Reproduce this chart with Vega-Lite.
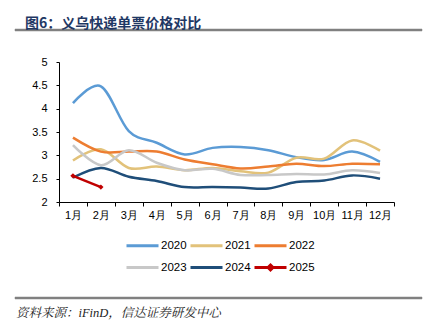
{
  "$schema": "https://vega.github.io/schema/vega-lite/v6.json",
  "padding": {"left": 14, "top": 17, "right": 4, "bottom": 4},
  "background": "white",
  "config": {
    "view": {"stroke": null},
    "font": "Liberation Sans",
    "axis": {"labelFont": "Liberation Sans", "labelFontSize": 11, "labelColor": "#000", "domainColor": "#000", "tickColor": "#000", "titleFontSize": 11}
  },
  "datasets": {
    "prices": [
      {"m": "1月", "year": "2020", "v": 4.12}, {"m": "2月", "year": "2020", "v": 4.48}, {"m": "3月", "year": "2020", "v": 3.52}, {"m": "4月", "year": "2020", "v": 3.27}, {"m": "5月", "year": "2020", "v": 3.02}, {"m": "6月", "year": "2020", "v": 3.16}, {"m": "7月", "year": "2020", "v": 3.18}, {"m": "8月", "year": "2020", "v": 3.11}, {"m": "9月", "year": "2020", "v": 2.96}, {"m": "10月", "year": "2020", "v": 2.9}, {"m": "11月", "year": "2020", "v": 3.08}, {"m": "12月", "year": "2020", "v": 2.86},
      {"m": "1月", "year": "2021", "v": 2.89}, {"m": "2月", "year": "2021", "v": 3.13}, {"m": "3月", "year": "2021", "v": 2.73}, {"m": "4月", "year": "2021", "v": 2.76}, {"m": "5月", "year": "2021", "v": 2.68}, {"m": "6月", "year": "2021", "v": 2.73}, {"m": "7月", "year": "2021", "v": 2.66}, {"m": "8月", "year": "2021", "v": 2.63}, {"m": "9月", "year": "2021", "v": 2.95}, {"m": "10月", "year": "2021", "v": 2.93}, {"m": "11月", "year": "2021", "v": 3.32}, {"m": "12月", "year": "2021", "v": 3.1},
      {"m": "1月", "year": "2022", "v": 3.38}, {"m": "2月", "year": "2022", "v": 3.08}, {"m": "3月", "year": "2022", "v": 3.08}, {"m": "4月", "year": "2022", "v": 3.08}, {"m": "5月", "year": "2022", "v": 2.91}, {"m": "6月", "year": "2022", "v": 2.81}, {"m": "7月", "year": "2022", "v": 2.72}, {"m": "8月", "year": "2022", "v": 2.76}, {"m": "9月", "year": "2022", "v": 2.82}, {"m": "10月", "year": "2022", "v": 2.77}, {"m": "11月", "year": "2022", "v": 2.82}, {"m": "12月", "year": "2022", "v": 2.81},
      {"m": "1月", "year": "2023", "v": 3.22}, {"m": "2月", "year": "2023", "v": 2.79}, {"m": "3月", "year": "2023", "v": 3.11}, {"m": "4月", "year": "2023", "v": 2.84}, {"m": "5月", "year": "2023", "v": 2.68}, {"m": "6月", "year": "2023", "v": 2.71}, {"m": "7月", "year": "2023", "v": 2.58}, {"m": "8月", "year": "2023", "v": 2.58}, {"m": "9月", "year": "2023", "v": 2.6}, {"m": "10月", "year": "2023", "v": 2.59}, {"m": "11月", "year": "2023", "v": 2.68}, {"m": "12月", "year": "2023", "v": 2.62},
      {"m": "1月", "year": "2024", "v": 2.52}, {"m": "2月", "year": "2024", "v": 2.73}, {"m": "3月", "year": "2024", "v": 2.54}, {"m": "4月", "year": "2024", "v": 2.45}, {"m": "5月", "year": "2024", "v": 2.32}, {"m": "6月", "year": "2024", "v": 2.32}, {"m": "7月", "year": "2024", "v": 2.31}, {"m": "8月", "year": "2024", "v": 2.29}, {"m": "9月", "year": "2024", "v": 2.43}, {"m": "10月", "year": "2024", "v": 2.46}, {"m": "11月", "year": "2024", "v": 2.57}, {"m": "12月", "year": "2024", "v": 2.5},
      {"m": "1月", "year": "2025", "v": 2.56}, {"m": "2月", "year": "2025", "v": 2.32}
    ]
  },
  "spacing": 23,
  "resolve": {"legend": {"color": "independent"}, "scale": {"color": "independent"}},
  "vconcat": [
    {
      "width": 407,
      "height": 2,
      "view": {"fill": "#808080", "stroke": "#808080", "strokeWidth": 0.5},
      "title": {"text": "图6：义乌快递单票价格对比", "anchor": "start", "font": "Noto Sans CJK SC", "fontSize": 14, "fontWeight": "bold", "color": "#1f3864", "offset": -4, "dx": 10},
      "data": {"values": [{"k": 1}]},
      "mark": {"type": "point", "opacity": 0},
      "encoding": {}
    },
    {
      "spacing": 19,
      "resolve": {"legend": {"color": "independent"}, "scale": {"color": "independent"}},
      "vconcat": [
        {
          "width": 407,
          "height": 140,
          "data": {"name": "prices"},
          "encoding": {
            "x": {"field": "m", "type": "ordinal", "sort": ["1月", "2月", "3月", "4月", "5月", "6月", "7月", "8月", "9月", "10月", "11月", "12月"],
                  "scale": {"type": "band", "paddingInner": 0, "paddingOuter": 0, "range": [44, 379]},
                  "axis": {"title": null, "labelAngle": 0, "tickBand": "extent", "tickSize": 4, "labelPadding": 3}},
            "y": {"field": "v", "type": "quantitative", "scale": {"domain": [2, 5]},
                  "axis": {"title": null, "grid": false, "values": [2, 2.5, 3, 3.5, 4, 4.5, 5], "format": "~g", "tickSize": 3, "labelPadding": 9, "offset": -44}},
            "color": {"field": "year", "type": "nominal",
                      "scale": {"domain": ["2020", "2021", "2022", "2023", "2024", "2025"], "range": ["#5b9bd5", "#e2c27a", "#ed7d31", "#c8c8c8", "#1f4e79", "#c00000"]},
                      "legend": {"title": null, "orient": "none", "legendX": 118, "legendY": 174, "direction": "horizontal", "columns": 3, "symbolType": "M-2,0H2", "symbolSize": 256, "symbolStrokeWidth": 3, "labelFontSize": 11.5, "labelFont": "Liberation Sans", "labelColor": "#000", "labelOffset": 9, "columnPadding": -3, "rowPadding": 6, "padding": 0,
                                 "encode": {"symbols": {"update": {
                                   "shape": {"signal": "datum.value == '2025' ? 'M-2,0H2M0,-0.3L0.3,0L0,0.3L-0.3,0Z' : 'M-2,0H2'"},
                                   "fill": {"signal": "datum.value == '2025' ? '#c00000' : 'transparent'"}}}}}}
          },
          "layer": [
            {"mark": {"type": "line", "interpolate": "cardinal", "tension": 0, "strokeWidth": 2.5}},
            {"transform": [{"filter": "datum.year == '2025'"}], "mark": {"type": "point", "shape": "diamond", "filled": true, "size": 28, "opacity": 1}}
          ]
        },
        {
          "width": 407,
          "height": 2,
          "view": {"fill": "#808080", "stroke": "#808080", "strokeWidth": 0.5},
          "title": {"text": "资料来源：iFinD，信达证券研发中心", "orient": "bottom", "anchor": "start", "font": "Liberation Serif, Noto Serif CJK SC, Noto Sans CJK SC", "fontSize": 12.5, "fontStyle": "italic", "fontWeight": "normal", "color": "#222", "offset": 6, "dx": 1},
          "data": {"values": [{"k": 1}]},
          "mark": {"type": "point", "opacity": 0},
          "encoding": {}
        }
      ]
    }
  ]
}
